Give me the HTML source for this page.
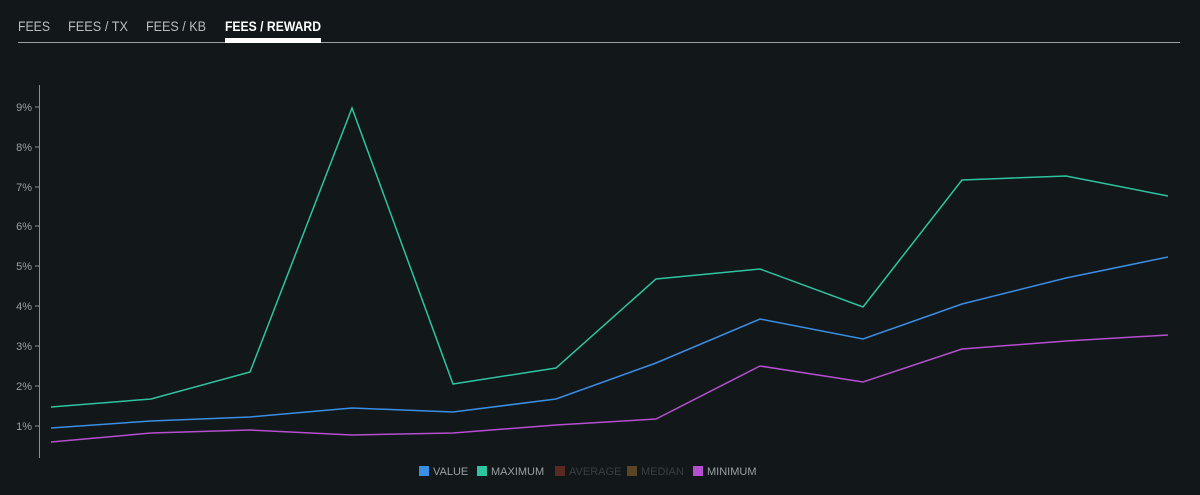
<!DOCTYPE html>
<html><head><style>
body{margin:0;width:1200px;height:490px;background:#121719;font-family:"Liberation Sans",sans-serif;overflow:hidden}
</style></head><body>
<svg width="1200" height="490" xmlns="http://www.w3.org/2000/svg">
<rect width="1200" height="490" fill="#121719"/>
<g font-size="14" fill="#b9bdbf" font-family="Liberation Sans, sans-serif">
<text x="18" y="31" textLength="32" lengthAdjust="spacingAndGlyphs">FEES</text>
<text x="68" y="31" textLength="60" lengthAdjust="spacingAndGlyphs">FEES / TX</text>
<text x="146" y="31" textLength="60" lengthAdjust="spacingAndGlyphs">FEES / KB</text>
<text x="225" y="31" fill="#fff" font-weight="bold" textLength="96" lengthAdjust="spacingAndGlyphs">FEES / REWARD</text>
</g>
<rect x="18" y="42" width="1162" height="1" fill="#9aa0a3"/>
<rect x="225" y="38" width="96" height="5" fill="#fff"/>
<line x1="39.5" y1="85" x2="39.5" y2="458" stroke="#8a8f92"/>
<g font-size="11" fill="#9aa0a3" text-anchor="end">
<text x="32" y="111">9%</text><text x="32" y="151">8%</text><text x="32" y="191">7%</text><text x="32" y="230">6%</text><text x="32" y="270">5%</text><text x="32" y="310">4%</text><text x="32" y="350">3%</text><text x="32" y="390">2%</text><text x="32" y="430">1%</text>
</g>
<g stroke="#8a8f92">
<line x1="35" x2="39" y1="107" y2="107"/><line x1="35" x2="39" y1="147" y2="147"/><line x1="35" x2="39" y1="187" y2="187"/><line x1="35" x2="39" y1="226" y2="226"/><line x1="35" x2="39" y1="266" y2="266"/><line x1="35" x2="39" y1="306" y2="306"/><line x1="35" x2="39" y1="346" y2="346"/><line x1="35" x2="39" y1="386" y2="386"/><line x1="35" x2="39" y1="426" y2="426"/>
</g>
<g fill="none" stroke-width="1.5">
<polyline stroke="#2ec4a0" points="51,407 151,399 250,372 352,108 453,384 556,368 656,279 760,269 863,307 962,180 1066,176 1168,196"/>
<polyline stroke="#3a8ee6" points="51,428 151,421 250,417 352,408 453,412 556,399 656,363 760,319 863,339 962,304 1066,278 1168,257"/>
<polyline stroke="#b54fd0" points="51,442 151,433 250,430 352,435 453,433 556,425 656,419 760,366 863,382 962,349 1066,341 1168,335"/>
</g>
<g font-size="11">
<rect x="419" y="466" width="10" height="10" fill="#3a8ee6"/><text x="433" y="475" fill="#9aa0a3">VALUE</text>
<rect x="477" y="466" width="10" height="10" fill="#2ec4a0"/><text x="491" y="475" fill="#9aa0a3">MAXIMUM</text>
<rect x="555" y="466" width="10" height="10" fill="#5a2a22"/><text x="569" y="475" fill="#3a3f42">AVERAGE</text>
<rect x="627" y="466" width="10" height="10" fill="#5a4526"/><text x="641" y="475" fill="#3a3f42">MEDIAN</text>
<rect x="693" y="466" width="10" height="10" fill="#b54fd0"/><text x="707" y="475" fill="#9aa0a3">MINIMUM</text>
</g>
</svg>
</body></html>
